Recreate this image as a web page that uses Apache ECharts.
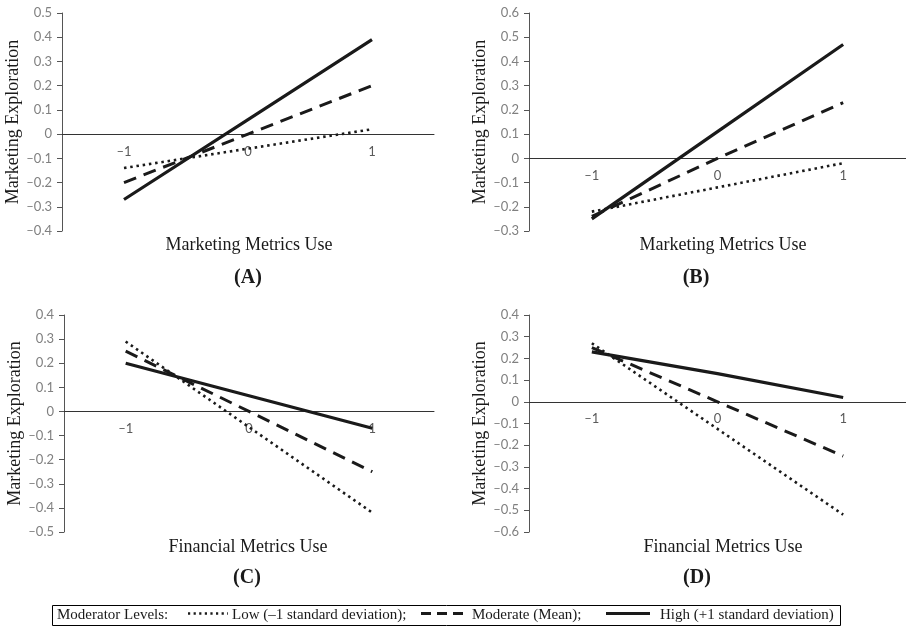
<!DOCTYPE html>
<html>
<head>
<meta charset="utf-8">
<script src="https://cdn.jsdelivr.net/npm/echarts@6/dist/echarts.min.js"></script>
<style>
  html, body { margin: 0; padding: 0; background: #fff; }
  #chart { width: 906px; height: 626px; }
</style>
</head>
<body>
<div id="chart"></div>
<script>
// Moderator levels of metrics use (x) on marketing exploration (y)
const xCategories = ['–1', '0', '1'];

// (A) Marketing metrics use
const aLow  = [-0.14, -0.06, 0.02];
const aMod  = [-0.20,  0.00, 0.20];
const aHigh = [-0.27,  0.06, 0.39];

// (B) Marketing metrics use
const bLow  = [-0.22, -0.12, -0.02];
const bMod  = [-0.24,  0.00,  0.23];
const bHigh = [-0.25,  0.11,  0.47];

// (C) Financial metrics use
const cLow  = [0.29, -0.065, -0.42];
const cMod  = [0.25,  0.00,  -0.25];
const cHigh = [0.20,  0.065, -0.07];

// (D) Financial metrics use
const dLow  = [0.27, -0.125, -0.52];
const dMod  = [0.25,  0.00,  -0.25];
const dHigh = [0.23,  0.13,   0.02];

const yTitle = 'Marketing Exploration';
const xTitleMarketing = 'Marketing Metrics Use';
const xTitleFinancial = 'Financial Metrics Use';
const panelTags = ['(A)', '(B)', '(C)', '(D)'];
const legendTitle = 'Moderator Levels:';
const levelNames = ['Low (–1 standard deviation);', 'Moderate (Mean);', 'High (+1 standard deviation)'];

const SERIF = '"Liberation Serif", "Times New Roman", serif';
const SANS = 'Lato, "Liberation Sans", Arial, sans-serif';
const INK = '#1a1a1a';

const levelStyles = [
  { type: [2.5, 3.8], width: 2.6, color: INK },
  { type: [13, 8], width: 3, color: INK },
  { type: 'solid', width: 3.2, color: INK }
];

const panels = [
  { grid: { left: 62, top: 13, width: 372, height: 218 }, min: -0.4, max: 0.5,
    data: [aLow, aMod, aHigh], xTitle: xTitleMarketing, xt: [249, 245], tag: [248, 278] },
  { grid: { left: 529, top: 13, width: 388, height: 218 }, min: -0.3, max: 0.6,
    data: [bLow, bMod, bHigh], xTitle: xTitleMarketing, xt: [723, 245], tag: [696, 278] },
  { grid: { left: 64, top: 315, width: 370, height: 217 }, min: -0.5, max: 0.4,
    data: [cLow, cMod, cHigh], xTitle: xTitleFinancial, xt: [248, 547], tag: [247, 578] },
  { grid: { left: 529, top: 315, width: 388, height: 217 }, min: -0.6, max: 0.4,
    data: [dLow, dMod, dHigh], xTitle: xTitleFinancial, xt: [723, 547], tag: [697, 578] }
];

function tickText(v) {
  const r = Math.round(v * 10) / 10;
  if (r === 0) return '0';
  return (r < 0 ? '–' : '') + Math.abs(r).toFixed(1);
}

const grids = [], xAxes = [], yAxes = [], series = [], graphics = [];

panels.forEach((p, i) => {
  grids.push(Object.assign({ containLabel: false }, p.grid));
  // the category axis sits on the value-axis zero line, labels included
  const zeroLift = p.grid.height * (0 - p.min) / (p.max - p.min);
  xAxes.push({
    type: 'category', gridIndex: i, data: xCategories, boundaryGap: true,
    position: 'bottom', offset: -zeroLift,
    axisLine: { onZero: false, lineStyle: { color: '#333', width: 1 } },
    axisTick: { show: false },
    axisLabel: { interval: 0, margin: 11, color: '#5a5a5a', fontFamily: SANS, fontSize: 13 },
    splitLine: { show: false }
  });
  yAxes.push({
    type: 'value', gridIndex: i, min: p.min, max: p.max, interval: 0.1,
    name: yTitle, nameLocation: 'middle', nameGap: 38,
    nameTextStyle: { fontFamily: SERIF, fontSize: 18, color: INK },
    axisLine: { show: true, lineStyle: { color: '#555', width: 1 } },
    axisTick: { show: true, length: 5, lineStyle: { color: '#555' } },
    axisLabel: { margin: 10, color: '#808080', fontFamily: SANS, fontSize: 13, formatter: tickText },
    splitLine: { show: false }
  });
  p.data.forEach((vals, k) => {
    series.push({
      type: 'line', xAxisIndex: i, yAxisIndex: i, data: vals,
      symbol: 'none', silent: true, animation: false,
      lineStyle: Object.assign({ cap: 'butt' }, levelStyles[k])
    });
  });
  graphics.push({
    type: 'text', x: p.xt[0], y: p.xt[1],
    style: { text: p.xTitle, fill: INK, font: '18px ' + SERIF, textAlign: 'center', textVerticalAlign: 'middle' }
  });
  graphics.push({
    type: 'text', x: p.tag[0], y: p.tag[1],
    style: { text: panelTags[i], fill: INK, font: 'bold 20px ' + SERIF, textAlign: 'center', textVerticalAlign: 'middle' }
  });
});

// Legend box along the bottom
const legendY = 615;
const lineY = 613.5;
const legendFont = '15px ' + SERIF;
graphics.push(
  { type: 'rect', shape: { x: 52.5, y: 605.5, width: 788, height: 20 },
    style: { fill: 'none', stroke: '#000', lineWidth: 1 } },
  { type: 'text', x: 57, y: legendY,
    style: { text: legendTitle, fill: INK, font: legendFont, textVerticalAlign: 'middle' } },
  { type: 'line', shape: { x1: 188, y1: lineY, x2: 228, y2: lineY },
    style: { stroke: INK, lineWidth: 2.5, lineDash: [2.2, 3.4] } },
  { type: 'text', x: 232, y: legendY,
    style: { text: levelNames[0], fill: INK, font: legendFont, textVerticalAlign: 'middle' } },
  { type: 'line', shape: { x1: 421, y1: lineY, x2: 463, y2: lineY },
    style: { stroke: INK, lineWidth: 3, lineDash: [10, 6] } },
  { type: 'text', x: 472, y: legendY,
    style: { text: levelNames[1], fill: INK, font: legendFont, textVerticalAlign: 'middle' } },
  { type: 'line', shape: { x1: 606, y1: lineY, x2: 650, y2: lineY },
    style: { stroke: INK, lineWidth: 3 } },
  { type: 'text', x: 660, y: legendY,
    style: { text: levelNames[2], fill: INK, font: legendFont, textVerticalAlign: 'middle' } }
);

const chart = echarts.init(document.getElementById('chart'), null, { renderer: 'canvas' });
chart.setOption({
  animation: false,
  backgroundColor: '#fff',
  grid: grids,
  xAxis: xAxes,
  yAxis: yAxes,
  series: series,
  graphic: graphics
});
</script>
</body>
</html>
